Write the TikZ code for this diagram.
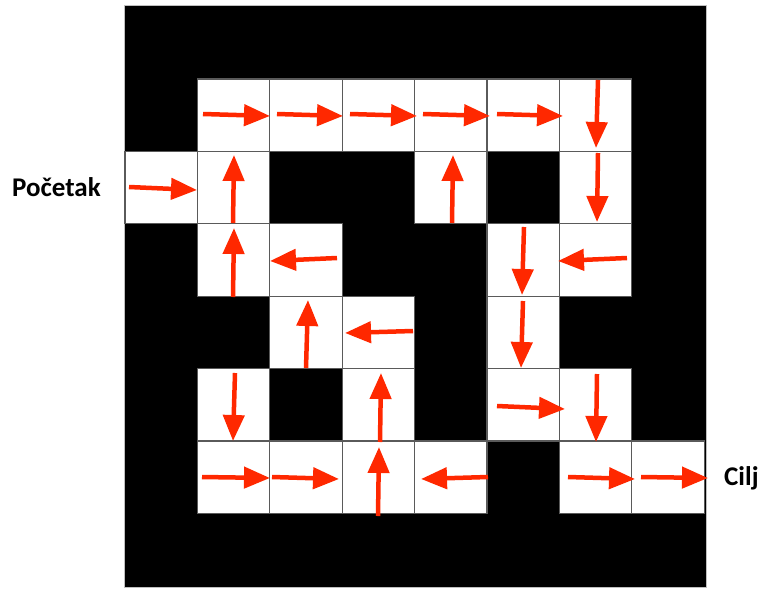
\documentclass[tikz,border=0pt]{standalone}
\usepackage{fontspec}
\setmainfont{Carlito}
\usetikzlibrary{arrows.meta}
\definecolor{arrred}{RGB}{255,40,0}
\definecolor{cellgray}{RGB}{90,90,90}
\tikzset{
  cellbox/.style={fill=white,draw=cellgray,line width=1.2pt},
  mv/.style={draw=arrred,line width=4.5pt,-{Triangle[length=26pt,width=21pt]}},
  lbl/.style={font=\bfseries\fontsize{27}{30}\selectfont,inner sep=0pt,anchor=base west}
}
\begin{document}
\begin{tikzpicture}[x=1pt,y=-1pt]
\useasboundingbox (0,0) rectangle (762,589);
\fill[white] (0,0) rectangle (762,589);
\node[draw=gray!50,fill=black,line width=1pt,minimum width=582pt,minimum height=582pt,inner sep=0pt,anchor=north west] (maze) at (124,5) {};
% white cells
\foreach \c/\r in {1/1,2/1,3/1,4/1,5/1,6/1,
                   0/2,1/2,4/2,6/2,
                   1/3,2/3,5/3,6/3,
                   2/4,3/4,5/4,
                   1/5,3/5,5/5,6/5,
                   1/6,2/6,3/6,4/6,6/6,7/6}{
  \draw[cellbox] ({125+72.4*\c},{6.6+72.4*\r}) rectangle ++(72.4,72.4);
}
% row 1
\draw[mv] (203,114) -- (270,116);
\draw[mv] (277,114) -- (343,116);
\draw[mv] (350,114) -- (417,116);
\draw[mv] (423,114) -- (490,116);
\draw[mv] (497,114) -- (563,116);
\draw[mv] (598,80) -- (596,148);
% row 2
\draw[mv] (129,187) -- (197,190);
\draw[mv] (233,223) -- (234,155);
\draw[mv] (452,223) -- (453,155);
\draw[mv] (598,153) -- (597,222);
% row 3
\draw[mv] (233,297) -- (234,228);
\draw[mv] (337,258) -- (270,261);
\draw[mv] (524,227) -- (522,295);
\draw[mv] (627,258) -- (558,261);
% row 4
\draw[mv] (306,368) -- (308,300);
\draw[mv] (413,331) -- (345,333);
\draw[mv] (523,301) -- (521,368);
% row 5
\draw[mv] (235,373) -- (233,441);
\draw[mv] (380,442) -- (381,373);
\draw[mv] (497,406) -- (565,409);
\draw[mv] (597,374) -- (596,442);
% row 6
\draw[mv] (202,477) -- (270,478);
\draw[mv] (272,477) -- (339,479);
\draw[mv] (378,516) -- (379,447);
\draw[mv] (488,477) -- (421,479);
\draw[mv] (568,477) -- (635,479);
\draw[mv] (641,477) -- (708,478);
% labels
\node[lbl] (start) at (12,196) {Početak};
\node[lbl] (goal) at (724,485) {Cilj};
\end{tikzpicture}
\end{document}
